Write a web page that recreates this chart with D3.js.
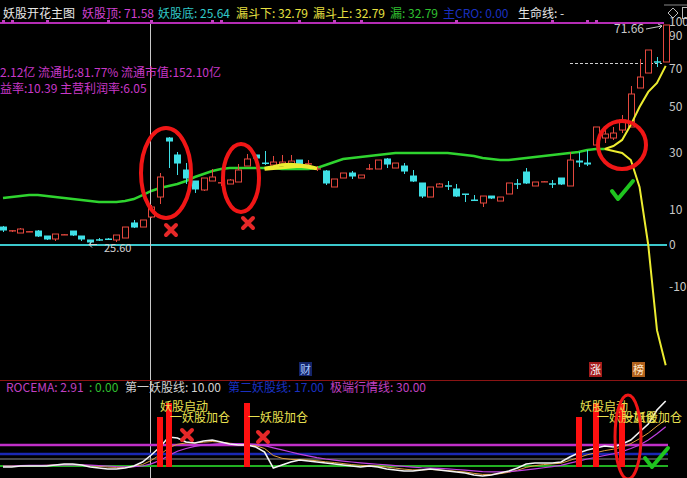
<!DOCTYPE html>
<html><head><meta charset="utf-8">
<script src="https://cdn.jsdelivr.net/npm/d3@7"></script>
<style>html,body{margin:0;padding:0;background:#000;overflow:hidden}</style>
</head><body><svg id="c" width="687" height="478"></svg>
<script>
// ---------- DATA ----------
// daily candles [open, high, low, close]
const ohlc = [
[29.17,29.39,28.12,28.33],[28.33,28.54,28.12,28.40],[27.91,28.96,27.91,28.75],[28.12,28.33,28.12,28.20],
[28.33,28.54,27.07,27.07],[27.28,27.28,26.44,26.44],[26.65,27.70,26.23,27.70],[27.49,27.70,27.49,27.56],
[28.33,28.33,27.28,27.28],[27.28,27.28,26.23,26.44],[26.44,26.44,25.60,25.81],[26.50,26.86,26.23,26.44],
[26.65,26.86,26.44,26.60],[26.44,27.49,26.02,27.49],[26.86,29.17,26.86,29.17],[30.02,30.65,28.96,28.96],
[29.17,30.65,29.17,30.65],[31.28,33.80,31.07,33.38],[35.48,40.53,34.01,39.69],[47.89,48.10,41.58,47.05],
[44.32,44.95,40.11,42.42],[41.16,42.63,38.22,39.27],[38.85,38.85,36.33,36.96],[36.96,39.48,36.75,39.48],
[38.85,41.37,38.85,39.69],[38.43,39.69,37.80,38.50],[38.22,39.27,38.22,39.06],[38.64,42.42,38.64,41.16],
[42.00,44.53,42.00,43.48],[44.32,44.32,42.84,43.48],[42.63,45.16,42.21,42.42],[42.21,44.11,42.21,42.84],
[42.42,44.32,42.42,42.84],[42.42,44.32,42.21,43.05],[43.26,43.26,42.21,42.21],[42.42,43.26,41.58,42.48],
[41.37,42.00,40.95,41.42],[40.95,41.16,38.01,38.22],[37.59,39.27,37.59,39.27],[39.48,40.53,39.48,40.53],
[40.53,40.95,39.27,39.69],[39.48,40.11,39.48,40.11],[41.37,42.42,41.16,41.42],[41.37,43.26,41.37,43.26],
[43.48,43.69,41.58,42.21],[41.58,42.63,41.58,42.63],[42.00,42.63,40.32,40.74],[39.90,41.16,38.64,38.64],
[38.43,38.43,35.27,35.48],[35.48,37.59,35.48,37.59],[37.59,38.43,37.59,38.22],[37.85,38.85,36.96,37.80],
[37.17,38.22,35.48,35.48],[36.12,36.12,34.43,35.90],[34.85,35.90,34.64,34.64],[34.22,35.69,33.38,35.69],
[35.69,35.69,35.06,35.06],[34.64,35.48,34.64,35.48],[36.12,38.43,36.12,38.43],[38.27,39.27,37.17,38.22],
[40.74,41.58,38.22,38.22],[37.80,38.64,37.80,38.64],[38.64,38.85,38.64,38.70],[38.27,39.06,37.38,38.22],
[39.48,39.48,38.01,38.01],[37.80,44.95,37.80,43.26],[43.05,44.95,41.79,42.63],[42.63,45.37,42.00,42.21],
[46.42,50.21,46.42,50.21],[47.89,49.57,46.84,48.73],[47.89,50.21,47.47,48.94],[49.57,52.73,48.94,51.68],
[50.21,58.83,50.21,57.15],[58.41,64.51,58.41,60.72],[61.56,66.40,61.56,66.40],[63.93,64.93,62.82,63.88],
[63.88,71.66,63.88,71.66]
];
// green life line (price units), first 70 days
const lifeLine = [35.27,35.48,35.69,35.90,35.90,35.69,35.48,35.27,35.06,34.85,
34.64,34.43,34.43,34.43,34.64,35.06,35.90,36.75,37.38,37.80,
38.22,38.85,39.69,40.32,40.95,41.37,41.58,41.58,41.58,41.58,
41.58,41.58,41.37,41.37,41.37,41.37,41.58,42.21,42.84,43.48,
43.69,43.90,44.11,44.32,44.53,44.74,44.74,44.74,44.74,44.74,
44.74,44.74,44.53,44.32,44.11,43.69,43.48,43.26,43.26,43.48,
43.69,43.90,44.11,44.32,44.53,44.74,44.95,45.37,45.58,45.58];
// funnel (yellow) segments, indicator units
const funnelStart = [30, 69];
const funnelUpper = [[24.0,24.6,25.3,25.5,25.2,24.8,24.0],[31.4,32.6,35.1,41.6,49.9,57.4,62.1,71.58]];
const funnelLower = [[23.6,23.9,24.2,24.5,24.7,24.4,23.8],[31.4,30.6,29.8,27.1,17.4,0.0,-18.7,-24.6]];
const axisTicks = [100,90,70,50,30,10,0,-10];
const topMarkers = [0,1,5,12,17,24,25,34,38,41,52,63,67,68];
// sub pane ROCEMA
const roc = [-1.4,-1.4,0,0,0,0,1.4,2.9,2.9,1.4,
-1.4,-2.9,-4.3,-4.3,-2.9,0,5.7,15.7,27.1,41.4,
40,34.3,32.9,35.7,37.1,34.3,31.4,30,30,27.1,
20,-2.9,1.4,5.7,8.6,7.1,5.7,4.3,2.9,1.4,
0,-1.4,0,-1.4,-4.3,-5.7,-7.1,-7.1,-5.7,-4.3,
-5.7,-7.1,-8.6,-10,-12.9,-14.3,-12.9,-10,-7.1,-2.9,
2.9,4.3,4.3,4.3,5.7,12.9,18.6,22.9,25.7,28.6,
27.1,31.4,37.1,48.6,60,80,92.9];
const rocMa1 = [0,0,0.5,0.8,1,1,1.2,1.5,1.8,1.6,1.2,0.6,0,-0.8,-1.2,-1,
0,3,8,15,21,25,28,30,31,32,32,32,31.5,31,29,26,23,20,17,14.5,12,10,8.5,7,5.7,4.5,3.5,2.5,1.5,0.5,
-0.5,-1.5,-2.5,-3,-3.5,-4,-5,-6,-7,-8,-8.5,-8.5,-8,-7,-5.5,-4,-2.5,-1,1,4,7,10,12.5,15,17.5,20.5,25,30,37,46,56];
const rocMa2 = [0,0,0,0.5,0.5,1,1.5,2,2,1.5,0.5,-0.5,-1.5,-2,-2,-1,
2,8,16,26,31,33,33,34,35,34,32.5,31.5,30.5,29,25,15,11,9.5,9,8.5,7.5,6,5,3.5,2,1,0.5,0,-1.5,-3,
-4.5,-5.5,-5.5,-5,-5.5,-6.5,-7.5,-8.5,-10.5,-12,-12,-11,-9,-6,-2,0.5,2,3,4,8,12,16,19,22,24,27,32,39,47,57,66];
const subLevels = [30, 17, 10, 0];
const barIdx = [18, 19, 28, 66, 68, 71];
const barVal = [70, 90, 90, 70, 90, 90];

// ---------- SCALES ----------
const svg = d3.select('#c');
const FONT = "'Noto Sans CJK SC','Noto Sans',sans-serif";
const RED = '#e4483e', CYAN = '#3fe0e6', YEL = '#ecec30', GRN = '#2fd42f';
const x = d3.scaleLinear().domain([0, 76]).range([3, 665.7]);
const yPrice = d3.scaleLinear().domain([25.6, 71.66]).range([244, 25]);
const yIndLog = d3.scaleLog().domain([60, 150]).range([245, 36]);
const yInd = v => yIndLog(v + 60);
const ySub = d3.scaleLinear().domain([0, 30]).range([466, 445]);

svg.append('rect').attr('width', 687).attr('height', 478).attr('fill', '#000');

// top header line with markers
svg.append('line').attr('x1', 0).attr('x2', 664).attr('y1', 23).attr('y2', 23).attr('stroke', '#b42cb4').attr('stroke-width', 2);
svg.selectAll('.mk').data(topMarkers).enter().append('rect')
  .attr('x', d => Math.round(x(d)) - 1).attr('y', 20).attr('width', 3).attr('height', 3).attr('fill', '#c040c0');
svg.append('line').attr('x1', 664).attr('x2', 687).attr('y1', 5).attr('y2', 5).attr('stroke', '#888');
svg.append('path').attr('d', 'M673,8 L678,13 L673,18 L668,13 Z').attr('fill', 'none').attr('stroke', '#bbb');
svg.append('rect').attr('x', 682.5).attr('y', 7.5).attr('width', 8).attr('height', 11).attr('fill', 'none').attr('stroke', '#bbb');

// right axis (indicator)
const ax = svg.append('g').attr('transform', 'translate(666,0)')
  .call(d3.axisRight(yIndLog).tickValues(axisTicks.map(v => v + 60)).tickFormat(d => d - 60).tickSize(0).tickPadding(3));
ax.select('.domain').remove();
ax.selectAll('text').attr('fill', '#c8c8c8').attr('font-size', 12).attr('font-family', FONT);

// zero line
svg.append('line').attr('x1', 0).attr('x2', 667).attr('y1', yInd(0)).attr('y2', yInd(0)).attr('stroke', '#3cc8cc').attr('stroke-width', 2);

// dashed top level line
svg.append('line').attr('x1', 570).attr('x2', 662).attr('y1', 63.5).attr('y2', 63.5)
  .attr('stroke', '#d0d0d0').attr('stroke-dasharray', '3,2');

// life line
svg.append('path').datum(lifeLine)
  .attr('d', d3.line().x((d, i) => x(i)).y(d => yPrice(d)))
  .attr('fill', 'none').attr('stroke', GRN).attr('stroke-width', 2.5);

// crosshair
svg.append('line').attr('x1', 150.5).attr('x2', 150.5).attr('y1', 24).attr('y2', 478).attr('stroke', '#c8c8c8');

// candles
const cg = svg.append('g');
ohlc.forEach((d, i) => {
  const [o, h, l, c] = d;
  const cx = Math.round(x(i)) + 0.5;
  const up = c >= o;
  const col = up ? RED : CYAN;
  const top = yPrice(Math.max(o, c)), bot = yPrice(Math.min(o, c));
  cg.append('line').attr('x1', cx).attr('x2', cx).attr('y1', yPrice(h)).attr('y2', yPrice(l)).attr('stroke', col);
  if (up) {
    cg.append('rect').attr('x', cx - 3).attr('y', top).attr('width', 6).attr('height', Math.max(bot - top, 0.3))
      .attr('fill', '#000').attr('stroke', col);
  } else {
    cg.append('rect').attr('x', cx - 3.5).attr('y', top - 0.5).attr('width', 7).attr('height', Math.max(bot - top, 1.5)).attr('fill', col);
  }
});

// funnel yellow lines
const fl = d3.line().x(d => x(d[0])).y(d => yInd(d[1]));
funnelStart.forEach((s, k) => {
  [funnelUpper[k], funnelLower[k]].forEach(arr => {
    svg.append('path').datum(arr.map((v, j) => [s + j, v])).attr('d', fl)
      .attr('fill', 'none').attr('stroke', YEL).attr('stroke-width', k === 0 ? 3 : 2);
  });
});

// price labels
svg.append('path').attr('d', 'M97,244.5 L89,244.5 M92,241.5 L89,244.5 L92,247.5').attr('stroke', '#d0d0d0').attr('fill', 'none');
svg.append('text').attr('x', 104).attr('y', 252).text('25.60').attr('fill', '#d0d0d0').attr('font-size', 11).attr('font-family', FONT);
svg.append('text').attr('x', 614).attr('y', 33).text('71.66').attr('fill', '#c8c8c8').attr('font-size', 12).attr('font-family', FONT);
svg.append('path').attr('d', 'M646,29 L662,26 M658,24 L662,26 L659,29').attr('stroke', '#c8c8c8').attr('fill', 'none');

// annotations main
const ann = svg.append('g').attr('fill', 'none');
ann.append('ellipse').attr('cx', 166).attr('cy', 173).attr('rx', 25).attr('ry', 45).attr('stroke', '#f01616').attr('stroke-width', 4);
ann.append('ellipse').attr('cx', 241).attr('cy', 178).attr('rx', 18).attr('ry', 34).attr('stroke', '#f01616').attr('stroke-width', 4);
ann.append('circle').attr('cx', 622).attr('cy', 145).attr('r', 24).attr('stroke', '#f01616').attr('stroke-width', 4);
function xMark(cx, cy, s) {
  ann.append('path').attr('d', `M${cx - s},${cy - s} L${cx + s},${cy + s} M${cx + s},${cy - s} L${cx - s},${cy + s}`)
    .attr('stroke', '#e62828').attr('stroke-width', 4).attr('stroke-linecap', 'round');
}
xMark(171, 230, 5); xMark(248, 223, 5);
ann.append('path').attr('d', 'M612,191 L618,199 L633,181').attr('stroke', '#1fc41f').attr('stroke-width', 4).attr('stroke-linejoin', 'round').attr('stroke-linecap', 'round');

// bottom labels of main pane
svg.append('rect').attr('x', 299).attr('y', 362).attr('width', 13).attr('height', 14).attr('fill', '#14246a');
svg.append('text').attr('x', 300).attr('y', 374).text('财').attr('fill', '#a8c8ff').attr('font-size', 11).attr('font-family', FONT);
svg.append('rect').attr('x', 589).attr('y', 362).attr('width', 13).attr('height', 15).attr('fill', '#a41c1c');
svg.append('text').attr('x', 590).attr('y', 374).text('涨').attr('fill', '#fff').attr('font-size', 11).attr('font-family', FONT);
svg.append('rect').attr('x', 632).attr('y', 362).attr('width', 13).attr('height', 15).attr('fill', '#b0601c');
svg.append('text').attr('x', 633).attr('y', 374).text('榜').attr('fill', '#ffe8c8').attr('font-size', 11).attr('font-family', FONT);

// pane separator
svg.append('line').attr('x1', 0).attr('x2', 687).attr('y1', 380.5).attr('y2', 380.5).attr('stroke', '#8a1414');

// ---------- TEXT ROWS ----------
function txt(xp, yp, s, col, size) {
  svg.append('text').attr('x', xp).attr('y', yp).text(s).attr('fill', col).attr('font-size', size || 12).attr('font-family', FONT);
}
txt(3, 18, '妖股开花主图', '#e8e8e8');
txt(82, 18, '妖股顶: 71.58', '#d040d0');
txt(158, 18, '妖股底: 25.64', '#30c8c8');
txt(236, 18, '漏斗下: 32.79', '#e8e040');
txt(313, 18, '漏斗上: 32.79', '#e8e040');
txt(390, 18, '漏: 32.79', '#30c030');
txt(443, 18, '主CRO: 0.00', '#1a30c0');
txt(518, 18, '生命线: -', '#e8e8e8');
txt(0, 77, '2.12亿 流通比:81.77% 流通市值:152.10亿', '#c838c8');
txt(0, 93, '益率:10.39 主营利润率:6.05', '#c838c8');

txt(6, 392, 'ROCEMA: 2.91', '#c040c0');
txt(89, 392, ': 0.00', '#30c030');
txt(125, 392, '第一妖股线: 10.00', '#d0d0d0');
txt(228, 392, '第二妖股线: 17.00', '#1a30c0');
txt(330, 392, '极端行情线: 30.00', '#c040c0');

// ---------- SUB PANE ----------
const levelColors = ['#c030c8', '#1a28b4', '#8c8c8c', '#22b022'];
const levelWidths = [2.5, 2.5, 1, 2];
subLevels.forEach((v, k) => {
  svg.append('line').attr('x1', 0).attr('x2', 668).attr('y1', ySub(v)).attr('y2', ySub(v))
    .attr('stroke', levelColors[k]).attr('stroke-width', levelWidths[k]);
});
const sl = d3.line().x((d, i) => x(i)).y(d => ySub(d));
svg.append('path').datum(rocMa2).attr('d', sl).attr('fill', 'none').attr('stroke', '#e0a040').attr('stroke-width', 1);
svg.append('path').datum(rocMa1).attr('d', sl).attr('fill', 'none').attr('stroke', '#c040e0').attr('stroke-width', 1.2);
svg.append('path').datum(roc).attr('d', sl).attr('fill', 'none').attr('stroke', '#f4f4f4').attr('stroke-width', 1.6);

barIdx.forEach((bi, k) => {
  svg.append('rect').attr('x', Math.round(x(bi)) - 3).attr('y', ySub(barVal[k])).attr('width', 6)
    .attr('height', ySub(0) - ySub(barVal[k]) + 1).attr('fill', '#ff1010');
});

txt(160, 411, '妖股启动', '#e8e050');
txt(170, 422, '一妖股加仓', '#e8e050');
txt(248, 422, '一妖股加仓', '#e8e050');
txt(580, 411, '妖股启动', '#e8e050');
txt(597, 422, '一妖股加仓', '#e8e050');
txt(622, 422, '一妖股加仓', '#e8e050');

xMark(187, 435, 5); xMark(263, 437, 5);
ann.raise();
svg.append('ellipse').attr('cx', 628).attr('cy', 437).attr('rx', 13).attr('ry', 42).attr('fill', 'none').attr('stroke', '#f01616').attr('stroke-width', 3);
svg.append('path').attr('d', 'M645,458 L652,467 L668,448').attr('fill', 'none').attr('stroke', '#1fc41f').attr('stroke-width', 4).attr('stroke-linejoin', 'round').attr('stroke-linecap', 'round');
</script>
</body></html>
